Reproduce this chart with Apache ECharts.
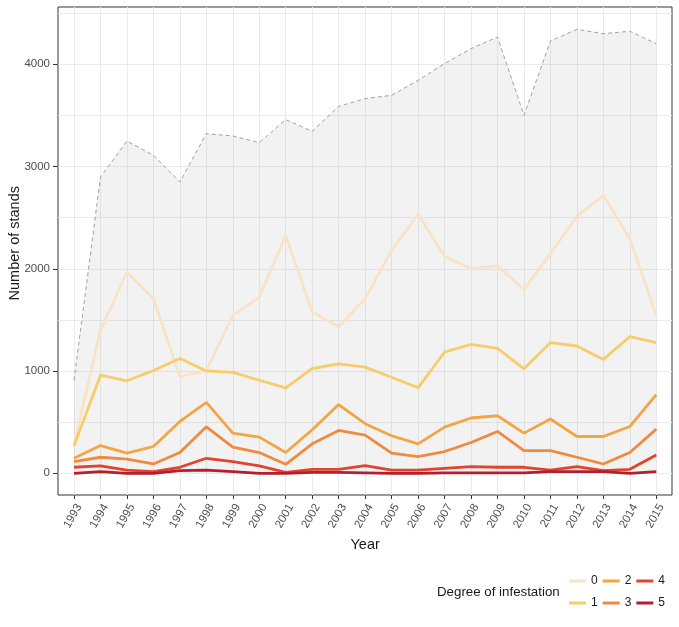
<!DOCTYPE html>
<html><head><meta charset="utf-8">
<script src="https://cdn.jsdelivr.net/npm/echarts@6/dist/echarts.min.js"></script>
<style>html,body{margin:0;padding:0;background:#fff}#c{width:679px;height:627px}</style>
</head><body><div id="c"></div>
<script>
const years = [1993,1994,1995,1996,1997,1998,1999,2000,2001,2002,2003,2004,2005,2006,2007,2008,2009,2010,2011,2012,2013,2014,2015];
const total = [909,2896,3250,3110,2849,3322,3299,3234,3459,3345,3589,3664,3697,3843,4007,4153,4267,3501,4228,4342,4300,4323,4202];
const deg0 = [278,1398,1966,1710,945,1007,1545,1724,2327,1578,1431,1709,2181,2530,2122,2002,2028,1797,2148,2513,2719,2295,1545];
const deg1 = [268,960,905,1005,1123,1001,987,910,836,1025,1071,1038,940,836,1186,1261,1222,1022,1278,1245,1114,1337,1278];
const deg2 = [147,271,197,262,507,694,393,354,203,426,672,485,367,288,452,541,563,393,531,360,360,458,770];
const deg3 = [114,157,138,91,203,455,256,203,88,288,419,374,197,163,213,301,409,222,222,157,91,203,432];
const deg4 = [59,72,32,16,59,147,114,72,10,39,39,75,32,32,49,65,59,59,32,65,26,39,180];
const deg5 = [0,16,0,0,26,32,16,0,0,10,10,5,0,0,5,5,5,5,16,16,16,0,16];
const degreeNames = ['0','1','2','3','4','5'];
const degreeColors = ['#f9e3c6','#f7cd6c','#f3a543','#ef8a3f','#e2432c','#b51e2d'];

const F = 'Arial, "Liberation Sans", sans-serif';
const pair = arr => arr.map((v, i) => [years[i], v]);
const degData = [deg0, deg1, deg2, deg3, deg4, deg5];
const yearMin = years[0], yearMax = years[years.length - 1];
const gridColor = '#ebebeb';

const chart = echarts.init(document.getElementById('c'));
const lineSeries = degData.map((d, i) => ({
  name: degreeNames[i], type: 'line', data: pair(d), symbol: 'none', clip: false,
  xAxisIndex: 2, yAxisIndex: 2,
  lineStyle: {color: degreeColors[i], width: 2.8}, itemStyle: {color: degreeColors[i]}, z: 3 + i
}));
const legendBase = {
  orient: 'horizontal', padding: 0, itemWidth: 17, itemHeight: 3, itemGap: 5, icon: 'rect',
  textStyle: {fontFamily: F, fontSize: 12, color: '#1a1a1a'}
};
const plain = v => String(v);
chart.setOption({
  animation: false,
  textStyle: {fontFamily: F},
  title: {text: 'Degree of infestation', left: 437, top: 586, padding: 0,
    textStyle: {fontFamily: F, fontSize: 13.3, fontWeight: 'normal', color: '#1a1a1a'}},
  legend: [
    Object.assign({}, legendBase, {data: ['0','2','4'], left: 569, top: 575}),
    Object.assign({}, legendBase, {data: ['1','3','5'], left: 569, top: 597})
  ],
  grid: [
    {left: 74, right: 22.7, top: 7, bottom: 132, outerBoundsMode: 'none', containLabel: false},
    {left: 58, right: 7, top: 13.2, bottom: 153.7, outerBoundsMode: 'none', containLabel: false},
    {left: 74, right: 22.7, top: 13.2, bottom: 153.7, outerBoundsMode: 'none', containLabel: false},
    {left: 58, right: 7, top: 7, bottom: 132, show: true, borderColor: '#333', borderWidth: 1, outerBoundsMode: 'none', containLabel: false}
  ],
  xAxis: [{
    gridIndex: 0, type: 'value', min: yearMin, max: yearMax, interval: 1,
    name: 'Year', nameLocation: 'middle', nameGap: 42, nameMoveOverlap: false,
    nameTextStyle: {fontFamily: F, fontSize: 14.5, color: '#1a1a1a'},
    axisLine: {show: false},
    axisTick: {show: true, length: 4, lineStyle: {color: '#333'}},
    axisLabel: {formatter: plain, rotate: 60, margin: 7, verticalAlign: 'top', color: '#4d4d4d', fontSize: 11.5, fontFamily: F},
    splitLine: {show: true, lineStyle: {color: gridColor, width: 1}}
  }, {
    gridIndex: 1, type: 'value', min: 0, max: 1, show: false
  }, {
    gridIndex: 2, type: 'value', min: yearMin, max: yearMax, show: false
  }, {
    gridIndex: 3, type: 'value', min: 0, max: 1, show: false
  }],
  yAxis: [{
    gridIndex: 0, type: 'value', min: 0, max: 1, show: false
  }, {
    gridIndex: 1, type: 'value', min: 0, max: 4500, interval: 500,
    axisLine: {show: false}, axisTick: {show: false}, axisLabel: {show: false},
    splitLine: {show: true, lineStyle: {color: gridColor, width: 1}}
  }, {
    gridIndex: 2, type: 'value', min: 0, max: 4500, interval: 1000, offset: 16,
    name: 'Number of stands', nameLocation: 'middle', nameGap: 36, nameMoveOverlap: false,
    nameTextStyle: {fontFamily: F, fontSize: 14.5, color: '#1a1a1a'},
    axisLine: {show: false},
    axisTick: {show: true, length: 5, lineStyle: {color: '#333'}},
    axisLabel: {formatter: plain, margin: 8, color: '#4d4d4d', fontSize: 11.5, fontFamily: F, showMaxLabel: false},
    splitLine: {show: false}
  }, {
    gridIndex: 3, type: 'value', min: 0, max: 1, show: false
  }],
  series: [{
    name: 'total', type: 'line', data: pair(total), symbol: 'none', z: 2, clip: false,
    xAxisIndex: 2, yAxisIndex: 2,
    lineStyle: {color: '#8a8a8a', width: 0.8, type: [4, 3]},
    areaStyle: {color: 'rgba(140,140,140,0.16)', origin: 0}
  }].concat(lineSeries)
});
</script></body></html>
